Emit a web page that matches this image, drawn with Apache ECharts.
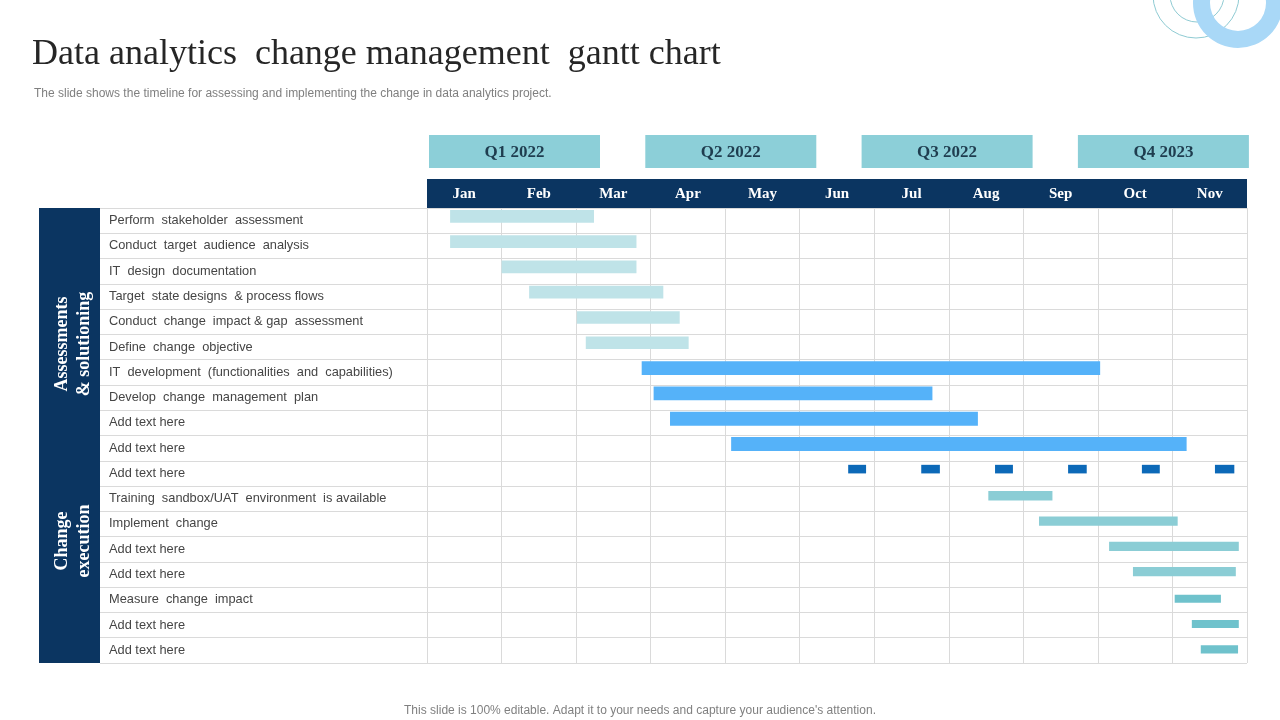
<!DOCTYPE html>
<html><head><meta charset="utf-8">
<script src="https://cdn.jsdelivr.net/npm/echarts@6/dist/echarts.min.js"></script>
<style>html,body{margin:0;padding:0;background:#fff}#c{width:1280px;height:720px}</style>
</head><body><div id="c"></div>
<script>
// ---------- data ----------
const months = ['Jan','Feb','Mar','Apr','May','Jun','Jul','Aug','Sep','Oct','Nov'];
const quarters = ['Q1 2022','Q2 2022','Q3 2022','Q4 2023'];
const phases = ['Assessments\n& solutioning', 'Change\nexecution'];
const tasks = [
  'Perform  stakeholder  assessment',
  'Conduct  target  audience  analysis',
  'IT  design  documentation',
  'Target  state designs  & process flows',
  'Conduct  change  impact & gap  assessment',
  'Define  change  objective',
  'IT  development  (functionalities  and  capabilities)',
  'Develop  change  management  plan',
  'Add text here',
  'Add text here',
  'Add text here',
  'Training  sandbox/UAT  environment  is available',
  'Implement  change',
  'Add text here',
  'Add text here',
  'Measure  change  impact',
  'Add text here',
  'Add text here'
];
// bar start / end in months from the start of Jan (null = milestone row)
const taskStart = [0.31, 0.31, 1.00, 1.37, 2.01, 2.13, 2.88, 3.04, 3.26, 4.08, null, 7.53, 8.21, 9.15, 9.47, 10.03, 10.26, 10.38];
const taskEnd   = [2.24, 2.81, 2.81, 3.17, 3.39, 3.51, 9.03, 6.78, 7.39, 10.19, null, 8.39, 10.07, 10.89, 10.85, 10.65, 10.89, 10.88];
const taskGroup = ['assess','assess','assess','assess','assess','assess','build','build','build','build','milestone','exec','exec','exec','exec','final','final','final'];
const milestoneRow = 10;
const milestoneStart = [5.65, 6.63, 7.62, 8.60, 9.59, 10.57];
const milestoneEnd   = [5.89, 6.88, 7.86, 8.85, 9.83, 10.83];

// ---------- styles ----------
const groupStyle = {
  assess:    {color:'#bfe3e8', h:0.50, off:0.08},
  build:     {color:'#55b2f9', h:0.55, off:0.06},
  milestone: {color:'#0c69b8', h:0.34, off:0.16},
  exec:      {color:'#8bcdd5', h:0.37, off:0.20},
  final:     {color:'#6fc2cc', h:0.32, off:0.30}
};
const L = 427, R = 1247, T = 208, B = 663;
const NAVY = '#0b3561';
const GRID = '#dadada';

const barData = [];
tasks.forEach((t, i) => {
  if (taskStart[i] != null) barData.push([i, taskStart[i], taskEnd[i], taskGroup[i]]);
});
milestoneStart.forEach((s, k) => barData.push([milestoneRow, s, milestoneEnd[k], 'milestone']));

const chart = echarts.init(document.getElementById('c'), null, {renderer:'canvas'});

const qW = 171, qGap = 45.3;
const graphics = [
  // decorative circles top right
  {type:'circle', shape:{cx:1196, cy:-5, r:43}, style:{fill:'none', stroke:'#8fcbd3', lineWidth:1}, silent:true},
  {type:'circle', shape:{cx:1197, cy:-5, r:27}, style:{fill:'none', stroke:'#8fcbd3', lineWidth:1}, silent:true},
  {type:'ring', shape:{cx:1238, cy:3, r:45, r0:28}, style:{fill:'#a9d8f7'}, silent:true},
  // month header bar
  {type:'rect', shape:{x:L, y:179, width:R-L, height:29}, style:{fill:NAVY}, z:0},
  // phase column
  {type:'rect', shape:{x:39, y:T, width:61, height:B-T}, style:{fill:NAVY}, z:0},
  {type:'text', x:73, y:344, rotation:Math.PI/2, z:5,
    style:{text:phases[0], fill:'#ffffff', font:'bold 18px "Liberation Serif"', align:'center', verticalAlign:'middle', lineHeight:22}},
  {type:'text', x:73, y:541, rotation:Math.PI/2, z:5,
    style:{text:phases[1], fill:'#ffffff', font:'bold 18px "Liberation Serif"', align:'center', verticalAlign:'middle', lineHeight:22}}
];
quarters.forEach((q, i) => {
  const x = 429 + i * (qW + qGap);
  graphics.push({type:'rect', shape:{x:x, y:135, width:qW, height:33}, style:{fill:'#8ccfd8'}, z:0});
  graphics.push({type:'text', x:x + qW/2, y:153, z:5,
    style:{text:q, fill:'#1f3d4f', font:'bold 17px "Liberation Serif"', align:'center', verticalAlign:'middle'}});
});

const option = {
  backgroundColor:'#ffffff',
  animation:false,
  title:[
    {text:'Data analytics  change management  gantt chart', left:27, top:32,
      textStyle:{fontFamily:'Liberation Serif', fontSize:36, fontWeight:'normal', color:'#262626'}},
    {text:'The slide shows the timeline for assessing and implementing the change in data analytics project.', left:29, top:83,
      textStyle:{fontFamily:'Liberation Sans', fontSize:12, fontWeight:'normal', color:'#7f7f7f'}},
    {text:"This slide is 100% editable. Adapt it to your needs and capture your audience's attention.", left:'center', top:700,
      textStyle:{fontFamily:'Liberation Sans', fontSize:12, fontWeight:'normal', color:'#808080'}}
  ],
  graphic:graphics,
  grid:[
    {left:100, top:T, width:L-100, height:B-T},
    {left:L, top:T, width:R-L, height:B-T}
  ],
  xAxis:[
    {type:'value', gridIndex:0, min:0, max:1, show:false},
    {type:'value', gridIndex:1, min:0, max:months.length, interval:1,
      axisLine:{show:false}, axisTick:{show:false}, axisLabel:{show:false},
      splitLine:{show:true, lineStyle:{color:GRID, width:1}}},
    {type:'category', gridIndex:1, position:'top', data:months, z:10,
      axisLine:{show:false}, axisTick:{show:false}, splitLine:{show:false},
      axisLabel:{color:'#ffffff', fontFamily:'Liberation Serif', fontWeight:'bold', fontSize:15, margin:6}}
  ],
  yAxis:[
    {type:'category', gridIndex:0, inverse:true, data:tasks,
      axisLine:{show:false}, axisTick:{show:false},
      splitLine:{show:true, lineStyle:{color:GRID, width:1}},
      axisLabel:{inside:true, margin:9, color:'#454545', fontFamily:'Liberation Sans', fontSize:12.8, padding:[4,0,0,0]}},
    {type:'category', gridIndex:1, inverse:true, data:tasks,
      axisLine:{show:false}, axisTick:{show:false}, axisLabel:{show:false},
      splitLine:{show:true, lineStyle:{color:GRID, width:1}}}
  ],
  series:[{
    type:'custom',
    xAxisIndex:1, yAxisIndex:1,
    encode:{x:[1,2], y:0},
    data:barData,
    renderItem:function(params, api){
      const row = api.value(0);
      const st = groupStyle[barData[params.dataIndex][3]];
      const p0 = api.coord([api.value(1), row]);
      const p1 = api.coord([api.value(2), row]);
      const band = api.size([0, 1])[1];
      return {type:'rect',
        shape:{x:p0[0], y:p0[1] - band/2 + band*st.off, width:p1[0]-p0[0], height:band*st.h},
        style:{fill:st.color}};
    }
  }]
};
chart.setOption(option);
</script>
</body></html>
